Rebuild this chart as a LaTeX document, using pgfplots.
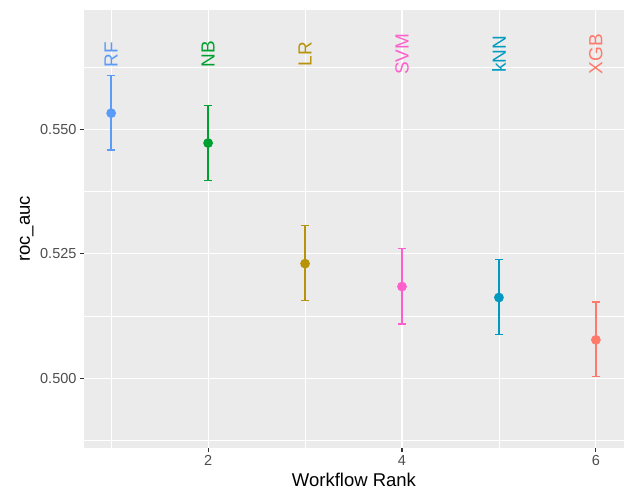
\documentclass[border=0pt]{standalone}
\usepackage{pgfplots}
\pgfplotsset{compat=1.18}
\usepackage{fontspec}
\setmainfont{Liberation Sans}
\definecolor{panel}{HTML}{EBEBEB}
\definecolor{tickc}{HTML}{333333}
\definecolor{labc}{HTML}{4D4D4D}
\definecolor{cRF}{HTML}{5B9BF8}
\definecolor{cNB}{HTML}{00A030}
\definecolor{cLR}{HTML}{B8930A}
\definecolor{cSVM}{HTML}{FF5FCC}
\definecolor{ckNN}{HTML}{0099BF}
\definecolor{cXGB}{HTML}{FF7A6B}
\begin{document}
\begin{tikzpicture}
\useasboundingbox (-84pt,-46pt) rectangle (543pt,448pt);
\begin{axis}[
 at={(0,0)}, anchor=south west, scale only axis, width=540pt, height=438pt,
 xmin=0.72, xmax=6.29, ymin=0.486, ymax=0.5739,
 axis background/.style={fill=panel},
 axis line style={draw=none},
 xtick={2,4,6}, minor xtick={1,3,5},
 ytick={0.5,0.525,0.55}, yticklabels={0.500,0.525,0.550},
 minor ytick={0.4875,0.5125,0.5375,0.5625},
 grid=both,
 major grid style={white, line width=1.1pt},
 minor grid style={white, line width=0.55pt},
 tick align=outside, tick pos=left,
 major tick length=4pt, minor tick length=0pt,
 tick style={color=tickc, line width=1.1pt},
 ticklabel style={color=labc, font=\fontsize{14.5}{17}\selectfont},
 /pgf/number format/assume math mode=true,
 xlabel={Workflow Rank}, ylabel={roc\_auc},
 label style={font=\fontsize{18.5}{22}\selectfont, text=black},
 xlabel style={at={(axis description cs:0.5,-0.0868)}, anchor=base},
 ylabel style={at={(axis description cs:-0.1,0.5)}, anchor=base},
 clip=false,
 every axis plot/.append style={line width=1.3pt, mark=*, mark size=4.2pt,
   error bars/y dir=both, error bars/y explicit,
   error bars/error bar style={line width=1.3pt},
   error bars/error mark options={rotate=90, line width=1.3pt, mark size=4pt}},
]
\addplot[cRF, mark options={fill=cRF}] coordinates {(1,0.5532) += (0,0.0076) -= (0,0.0074)};
\addplot[cNB, mark options={fill=cNB}] coordinates {(2,0.5472) += (0,0.0075) -= (0,0.0075)};
\addplot[cLR, mark options={fill=cLR}] coordinates {(3,0.5230) += (0,0.0076) -= (0,0.0074)};
\addplot[cSVM, mark options={fill=cSVM}] coordinates {(4,0.5184) += (0,0.0076) -= (0,0.0075)};
\addplot[ckNN, mark options={fill=ckNN}] coordinates {(5,0.5162) += (0,0.0076) -= (0,0.0074)};
\addplot[cXGB, mark options={fill=cXGB}] coordinates {(6,0.5077) += (0,0.0076) -= (0,0.0074)};
\node[rotate=90, text=cRF, font=\fontsize{19}{22}\selectfont] at (axis cs:1,0.565) {RF};
\node[rotate=90, text=cNB, font=\fontsize{19}{22}\selectfont] at (axis cs:2,0.565) {NB};
\node[rotate=90, text=cLR, font=\fontsize{19}{22}\selectfont] at (axis cs:3,0.565) {LR};
\node[rotate=90, text=cSVM, font=\fontsize{19}{22}\selectfont] at (axis cs:4,0.565) {SVM};
\node[rotate=90, text=ckNN, font=\fontsize{19}{22}\selectfont] at (axis cs:5,0.565) {kNN};
\node[rotate=90, text=cXGB, font=\fontsize{19}{22}\selectfont] at (axis cs:6,0.565) {XGB};
\end{axis}
\end{tikzpicture}
\end{document}
